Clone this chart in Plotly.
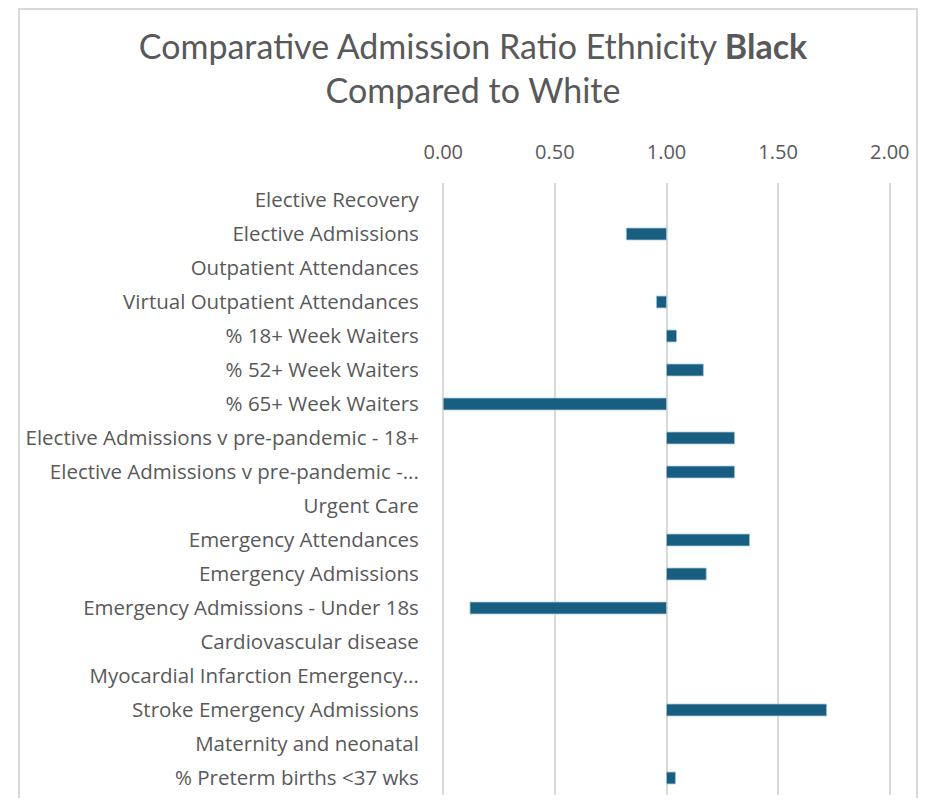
import plotly.graph_objects as go

categories = [
    "Elective Recovery",
    "Elective Admissions",
    "Outpatient Attendances",
    "Virtual Outpatient Attendances",
    "% 18+ Week Waiters",
    "% 52+ Week Waiters",
    "% 65+ Week Waiters",
    "Elective Admissions v pre-pandemic - 18+",
    "Elective Admissions v pre-pandemic -...",
    "Urgent Care",
    "Emergency Attendances",
    "Emergency Admissions",
    "Emergency Admissions - Under 18s",
    "Cardiovascular disease",
    "Myocardial Infarction Emergency...",
    "Stroke Emergency Admissions",
    "Maternity and neonatal",
    "% Preterm births <37 wks",
]
ratios = [None, 0.82, None, 0.955, 1.045, 1.165, 0.0, 1.305, 1.305, None,
          1.372, 1.178, 0.12, None, None, 1.717, None, 1.04]
tick_vals = [0, 0.5, 1.0, 1.5, 2.0]
tick_text = ["0.00", "0.50", "1.00", "1.50", "2.00"]
baseline = 1.0

bar_len = [None if r is None else r - baseline for r in ratios]

GREY = "#595959"

fig = go.Figure(go.Bar(
    y=categories,
    x=bar_len,
    base=baseline,
    orientation="h",
    width=0.35,
    marker=dict(color="#175E80", line=dict(color="#9fc3d4", width=0.8)),
))

# page body has an 8px margin, so the figure is sized to fit inside it
W, H = 920, 790
ml, mr, mt, mb = 433, 36, 175, 3
pw = W - ml - mr
ph = H - mt - mb

def px_x(x):
    return (x - ml) / pw

def px_y(y):
    return (H - mb - y) / ph

fig.update_layout(
    width=W, height=H,
    margin=dict(l=ml, r=mr, t=mt, b=mb, autoexpand=False),
    paper_bgcolor="white",
    plot_bgcolor="white",
    showlegend=False,
    font=dict(family="Open Sans", color=GREY),
    title=dict(
        text="Comparative Admission Ratio Ethnicity <b>Black</b><br>Compared to White",
        x=465 / W, xanchor="center",
        y=1 - 51 / H, yanchor="top", yref="container",
        font=dict(family="Lato", size=34, color=GREY),
    ),
    xaxis=dict(
        side="top",
        range=[-0.01, 2.01],
        tickvals=tick_vals,
        ticktext=tick_text,
        showgrid=True,
        gridcolor="#d9d9d9",
        gridwidth=2,
        zeroline=False,
        showline=False,
        ticks="outside",
        ticklen=15,
        tickcolor="rgba(0,0,0,0)",
        tickfont=dict(family="Open Sans", size=20, color=GREY),
    ),
    yaxis=dict(
        autorange="reversed",
        type="category",
        showgrid=False,
        zeroline=False,
        showline=False,
        ticks="outside",
        ticklen=17,
        tickcolor="rgba(0,0,0,0)",
        tickfont=dict(family="Open Sans", size=20.5, color=GREY),
    ),
    bargap=0.65,
    shapes=[dict(
        type="rect", xref="paper", yref="paper",
        x0=px_x(11), x1=px_x(909), y0=px_y(800), y1=px_y(1),
        line=dict(color="#d9d9d9", width=2),
        fillcolor="rgba(0,0,0,0)",
        layer="below",
    )],
)

fig.write_html("out.html")
